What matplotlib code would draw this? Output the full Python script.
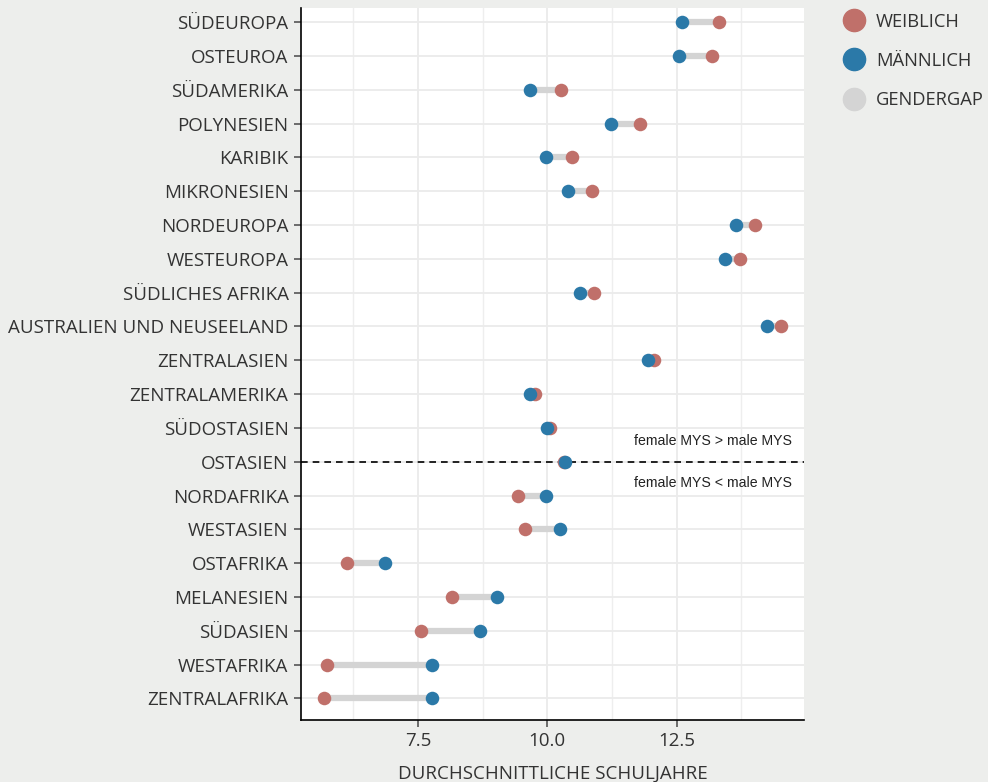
import numpy as np
import matplotlib.pyplot as plt
from matplotlib.lines import Line2D
from matplotlib.transforms import blended_transform_factory

# ── Daten (von oben nach unten) ─────────────────────────────────────────────
regionen = [
    "SÜDEUROPA", "OSTEUROA", "SÜDAMERIKA", "POLYNESIEN", "KARIBIK",
    "MIKRONESIEN", "NORDEUROPA", "WESTEUROPA", "SÜDLICHES AFRIKA",
    "AUSTRALIEN UND NEUSEELAND", "ZENTRALASIEN", "ZENTRALAMERIKA",
    "SÜDOSTASIEN", "OSTASIEN", "NORDAFRIKA", "WESTASIEN", "OSTAFRIKA",
    "MELANESIEN", "SÜDASIEN", "WESTAFRIKA", "ZENTRALAFRIKA",
]
weiblich = [13.32, 13.18, 10.27, 11.80, 10.47, 10.87, 14.02, 13.73, 10.91,
            14.52, 12.06, 9.77, 10.06, 10.33, 9.44, 9.56, 6.12, 8.16, 7.55,
            5.75, 5.68]
maennlich = [12.61, 12.55, 9.67, 11.24, 9.97, 10.39, 13.64, 13.44, 10.63,
             14.25, 11.95, 9.66, 10.00, 10.35, 9.97, 10.24, 6.87, 9.03, 8.70,
             7.78, 7.78]
trenn_region = "OSTASIEN"

C_W = "#c0706a"
C_M = "#2b79a8"
C_GAP = "#d4d4d4"
C_BG = "#edeeec"
C_TXT = "#333333"

plt.rcParams["font.family"] = ["Open Sans", "DejaVu Sans"]

w = np.array(weiblich)
m = np.array(maennlich)
n = len(regionen)
y = np.arange(n)[::-1]

fig = plt.figure(figsize=(9.88, 7.82), dpi=100, facecolor=C_BG)
ax = fig.add_axes([301 / 988, 1 - 720 / 782, (804 - 301) / 988, (720 - 8) / 782])
ax.set_facecolor("white")

# Gitter
for v in [6.25, 8.75, 11.25, 13.75]:
    ax.axvline(v, color="#eeeeee", lw=1.0, zorder=0)
for v in [7.5, 10.0, 12.5]:
    ax.axvline(v, color="#ebebeb", lw=1.3, zorder=0)
for yy in y:
    ax.axhline(yy, color="#ebebeb", lw=1.3, zorder=0)

# Gendergap
ax.hlines(y, np.minimum(w, m), np.maximum(w, m), color=C_GAP, lw=4.5, zorder=2)
ax.scatter(w, y, s=95, color=C_W, zorder=3, linewidths=0)
ax.scatter(m, y, s=95, color=C_M, zorder=4, linewidths=0)

# Trennlinie
y_trenn = y[regionen.index(trenn_region)]
ax.axhline(y_trenn, color="black", lw=1.2, ls=(0, (4, 3)), zorder=1)
tr = blended_transform_factory(ax.transAxes, ax.transData)
ax.text(0.976, y_trenn + 0.62, "female MYS > male MYS", transform=tr,
        ha="right", va="center", fontsize=10.2, family="Liberation Sans", color="#222222")
ax.text(0.976, y_trenn - 0.62, "female MYS < male MYS", transform=tr,
        ha="right", va="center", fontsize=10.2, family="Liberation Sans", color="#222222")

rng = max(w.max(), m.max()) - min(w.min(), m.min())
ax.set_xlim(min(w.min(), m.min()) - 0.05 * rng, max(w.max(), m.max()) + 0.05 * rng)
ax.set_ylim(-0.64, n - 1 + 0.42)
ax.set_xticks([7.5, 10.0, 12.5])
ax.set_xticklabels(["7.5", "10.0", "12.5"])
ax.set_yticks(y)
ax.set_yticklabels(regionen)
ax.tick_params(axis="both", labelsize=13.5, colors="#555555", labelcolor=C_TXT,
               length=5, width=1.2, pad=4)
ax.set_xlabel("DURCHSCHNITTLICHE SCHULJAHRE", fontsize=13.5, color=C_TXT, labelpad=10)

for s in ["top", "right"]:
    ax.spines[s].set_visible(False)
for s in ["left", "bottom"]:
    ax.spines[s].set_color("black")
    ax.spines[s].set_linewidth(1.2)

handles = [
    Line2D([], [], marker="o", ls="", color=C_W, markersize=16),
    Line2D([], [], marker="o", ls="", color=C_M, markersize=16),
    Line2D([], [], marker="o", ls="", color=C_GAP, markersize=16),
]
fig.legend(handles, ["WEIBLICH", "MÄNNLICH", "GENDERGAP"], loc="upper left",
           bbox_to_anchor=(823 / 988, 1 - 0 / 782), frameon=False, fontsize=13.2,
           labelcolor=C_TXT, handletextpad=0.2, labelspacing=1.15, borderpad=0.2)

fig.savefig("out.png", dpi=100, facecolor=C_BG)
